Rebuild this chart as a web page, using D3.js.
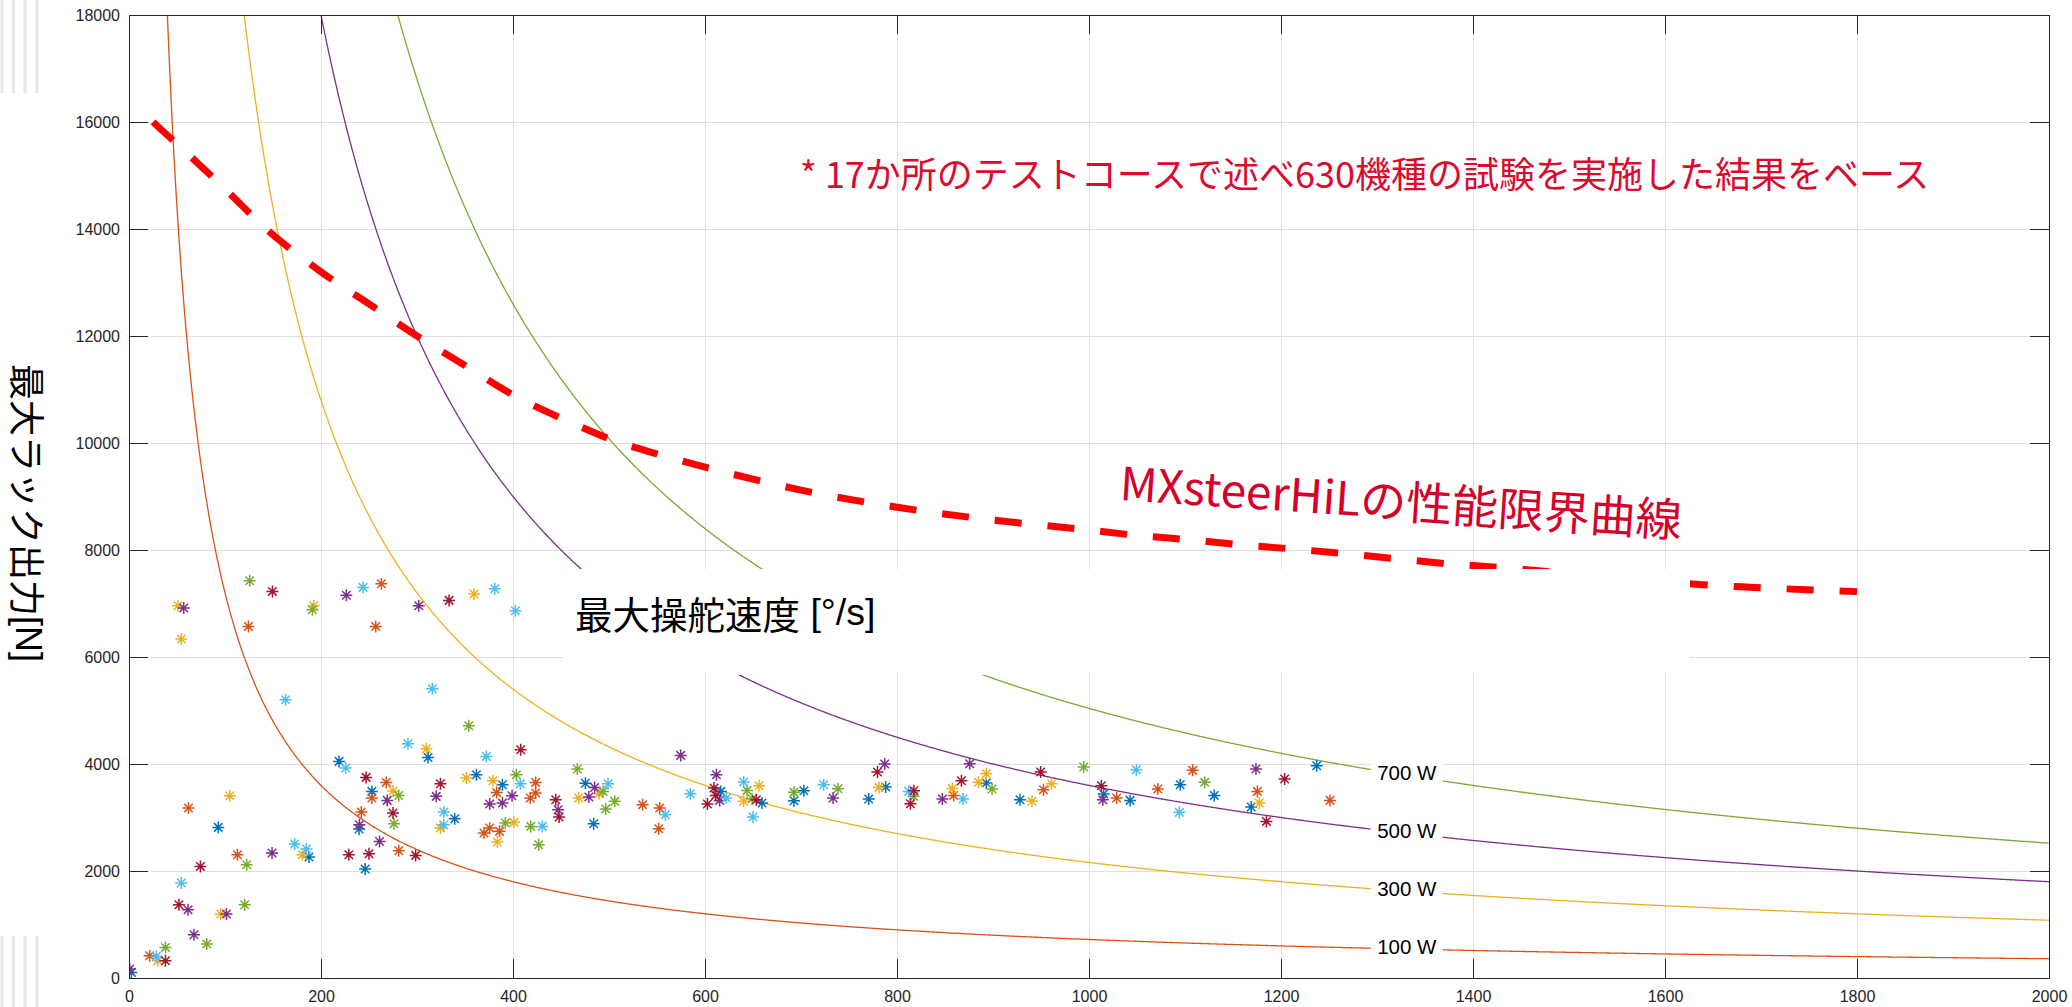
<!DOCTYPE html>
<html><head><meta charset="utf-8">
<script src="https://cdn.jsdelivr.net/npm/d3@7"></script>
<style>body{margin:0;background:#fff;} svg{display:block;}</style>
</head><body>
<svg id="chart" width="2072" height="1007"></svg>
<script>
// ---------------- data ----------------
const xTickValues = [0,200,400,600,800,1000,1200,1400,1600,1800,2000];
const yTickValues = [0,2000,4000,6000,8000,10000,12000,14000,16000,18000];
const xLabelMain = "最大操舵速度";
const xLabelUnit = " [°/s]";
const yLabelMain = "最大ラック出力";
const yLabelUnit = "[N]";
const noteText = "* 17か所のテストコースで述べ630機種の試験を実施した結果をベース";
const limitText = "MXsteerHiLの性能限界曲線";

const powerLevels = [100, 300, 500, 700];           // W
const powerLabels = ["100 W", "300 W", "500 W", "700 W"];
const powerColors = ["#D95319", "#EDB120", "#7E2F8E", "#77AC30"];
const rackTravelPerRev = 0.05;   // m of rack travel per steering revolution (F = P / (v/360*0.05))
const powerLabelSpeed = 1331;

// MXsteerHiL limit curve (speed °/s, force N)
const limitCurve = [[25,16000],[100,14750],[143,14000],[200,13200],[250,12600],[300,12000],[350,11450],
  [400,10900],[467,10330],[500,10080],[547,9810],[600,9550],[700,9120],[800,8800],[900,8560],[997,8380],
  [1050,8273],[1104,8193],[1158,8099],[1212,8019],[1266,7931],[1320,7837],[1373,7744],[1427,7675],
  [1500,7560],[1580,7440],[1639,7351],[1693,7301],[1747,7258],[1800,7222]];

const seriesColors = ["#0072BD","#D95319","#EDB120","#7E2F8E","#77AC30","#4DBEEE","#A2142F"];
const blueSeries = [[2.5,105],[93,2815],[187.5,2262],[218.8,4049],[253,3488],[239.6,2785],[246,2037],
  [311.5,4123],[361.9,3800],[389,3613],[339.3,2978],[484,2884],[475.4,3640],[616.4,3488],[659.4,3271],
  [692.7,3314],[703,3501],[770.5,3346],[788.2,3570],[893,3645],[928.1,3333],[1015.3,3439],[1042.8,3320],
  [1095,3613],[1130.5,3413],[1168.9,3196],[1237.2,3968]];
const orangeSeries = [[21.5,417],[62,3178],[113,2305],[124.4,6572],[257,6572],[262.9,7370],[268,3656],
  [253,3364],[242,3103],[281,2379],[383,3465],[423.6,3656],[423.6,3458],[418,3364],[369.8,2710],
  [375.7,2804],[386,2741],[535,3240],[552.8,3178],[551.8,2790],[859,3413],[952.6,3520],[1028.8,3364],
  [1071.7,3532],[1108,3881],[1175.4,3488],[1251.1,3320]];
const yellowSeries = [[30,323],[95.5,1196],[105,3407],[180.6,2305],[51,6959],[54.5,6336],[192.4,6959],
  [359.4,7178],[309.8,4286],[275,3495],[351.4,3738],[379,3688],[324.4,2804],[401,2909],[383.7,2542],
  [468.4,3364],[489.6,3445],[640.3,3302],[656.3,3594],[781.3,3563],[857.7,3540],[885,3657],[893,3819],
  [940.6,3302],[961,3632],[1177.4,3271]];
const purpleSeries = [[0.7,168],[61.5,1277],[67.7,809],[101.5,1196],[149,2336],[57,6916],[226.4,7153],
  [301.8,6959],[269,3320],[240,2865],[261,2553],[320,3395],[375.7,3252],[389,3271],[399,3407],[447,3146],
  [485,3560],[479,3383],[574.7,4161],[611.9,3800],[615.3,3320],[733.4,3364],[787.2,4000],[847.3,3346],
  [875.7,4006],[1014.4,3333],[1173.9,3907]];
const greenSeries = [[38,572],[81,635],[120.5,1370],[122.6,2118],[125.7,7426],[191,6884],[353.9,4716],
  [281,3410],[276,2884],[403.5,3800],[392,2897],[418.5,2834],[426.8,2492],[467,3907],[493.8,3488],
  [506,3302],[496.6,3159],[643.8,3507],[649,3351],[692.7,3470],[738.5,3538],[817.4,3395],[899,3532],
  [994.5,3944],[1120.5,3657]];
const lightBlueSeries = [[28.5,404],[54.5,1775],[172.6,2505],[184.8,2411],[163,5200],[225.7,3925],
  [243.8,7301],[381,7277],[402.5,6866],[316,5407],[290.6,4379],[372.3,4142],[407.7,3632],[328,3103],
  [327.8,2865],[430.6,2834],[499,3632],[558.7,3053],[584.8,3445],[622.3,3364],[640.3,3664],[650,3009],
  [723.6,3613],[812.2,3488],[868.8,3346],[1049.3,3894],[1094.1,3096]];
const darkRedSeries = [[38,323],[52,1370],[74.4,2086],[149.4,7226],[333.4,7058],[247,3750],[275,3084],
  [229,2305],[250,2323],[298.6,2292],[408,4267],[324.4,3632],[444.5,3333],[448,3009],[609.4,3551],
  [611.1,3413],[602.5,3252],[653.5,3333],[779.6,3850],[817.7,3501],[814,3258],[867.1,3688],[949.6,3850],
  [1012.9,3594],[1184.8,2927],[1203.8,3720]];
const allSeries = [blueSeries, orangeSeries, yellowSeries, purpleSeries, greenSeries, lightBlueSeries, darkRedSeries];

// ---------------- layout ----------------
const W = 2072, H = 1007;
const margin = {left: 129, top: 15, right: 23, bottom: 29};
const pw = W - margin.left - margin.right;   // 1920
const ph = H - margin.top - margin.bottom;   // 963
const cjkFont = "Noto Sans CJK JP, sans-serif";
const latinFont = "Liberation Sans, Arial, sans-serif";

const svg = d3.select("#chart");
const x = d3.scaleLinear().domain([0, 2000]).range([margin.left, margin.left + pw]);
const y = d3.scaleLinear().domain([0, 18000]).range([margin.top + ph, margin.top]);

// left-edge artifacts
const artX = [0.5, 12, 23.5, 35.5];
svg.append("g").selectAll("rect").data(artX).join("rect")
  .attr("x", d => d).attr("y", 0).attr("width", 3).attr("height", 93).attr("fill", "#e6e6e6");
svg.append("g").selectAll("rect").data(artX).join("rect")
  .attr("x", d => d).attr("y", 936).attr("width", 3).attr("height", 71).attr("fill", "#e6e6e6");

svg.append("defs").append("clipPath").attr("id", "plotclip")
  .append("rect").attr("x", margin.left).attr("y", margin.top).attr("width", pw).attr("height", ph);

// gridlines
const grid = svg.append("g").attr("stroke", "#dfdfdf").attr("stroke-width", 1);
grid.selectAll("line.v").data(xTickValues.slice(1, -1)).join("line").attr("class", "v")
  .attr("x1", d => Math.round(x(d)) + 0.5).attr("x2", d => Math.round(x(d)) + 0.5)
  .attr("y1", margin.top).attr("y2", margin.top + ph);
grid.selectAll("line.h").data(yTickValues.slice(1, -1)).join("line").attr("class", "h")
  .attr("y1", d => Math.round(y(d)) + 0.5).attr("y2", d => Math.round(y(d)) + 0.5)
  .attr("x1", margin.left).attr("x2", margin.left + pw);

const plot = svg.append("g").attr("clip-path", "url(#plotclip)");

// iso-power curves  F = P / (v/360 * rackTravelPerRev)
const forceAt = (p, v) => p / (v / 360 * rackTravelPerRev);
const line = d3.line().x(d => x(d[0])).y(d => y(d[1]));
powerLevels.forEach((p, i) => {
  const vmin = p * 360 / rackTravelPerRev / 18000 * 0.97;
  const pts = d3.range(vmin, 2000.5, 1).map(v => [v, forceAt(p, v)]);
  plot.append("path").attr("d", line(pts)).attr("fill", "none")
    .attr("stroke", powerColors[i]).attr("stroke-width", 1.3);
});

// limit curve (dashed red)
plot.append("path")
  .attr("d", d3.line().x(d => x(d[0])).y(d => y(d[1])).curve(d3.curveMonotoneX)(limitCurve))
  .attr("fill", "none").attr("stroke", "#FF0000").attr("stroke-width", 7)
  .attr("stroke-dasharray", "27,26");

// scatter asterisks
const r = 6, rd = 6 * Math.SQRT1_2;
const starPath = `M${-r},0L${r},0M0,${-r}L0,${r}M${-rd},${-rd}L${rd},${rd}M${-rd},${rd}L${rd},${-rd}`;
allSeries.forEach((s, i) => {
  plot.append("g").selectAll("path").data(s).join("path")
    .attr("transform", d => `translate(${x(d[0])},${y(d[1])})`)
    .attr("d", starPath).attr("fill", "none")
    .attr("stroke", seriesColors[i]).attr("stroke-width", 1.5);
});

// power labels with white background
powerLevels.forEach((p, i) => {
  const cx = x(powerLabelSpeed), cy = y(forceAt(p, powerLabelSpeed)) - 3;
  svg.append("rect").attr("x", cx - 36).attr("y", cy - 15).attr("width", 72).attr("height", 30).attr("fill", "#fff");
  svg.append("text").attr("x", cx).attr("y", cy).attr("text-anchor", "middle")
    .attr("dominant-baseline", "central").attr("font-family", latinFont)
    .attr("font-size", 20.5).attr("fill", "#000").text(powerLabels[i]);
});

// x-label box + text
svg.append("rect").attr("x", 563).attr("y", 569).attr("width", 1127).attr("height", 106).attr("fill", "#fff");
const xl = svg.append("text").attr("x", 575).attr("y", 612).attr("dominant-baseline", "central")
  .attr("font-size", 37.5).attr("fill", "#000");
xl.append("tspan").attr("font-family", cjkFont).text(xLabelMain);
xl.append("tspan").attr("font-family", latinFont).text(xLabelUnit);

// axes with inward ticks
const styleAxis = g => {
  g.selectAll(".domain").attr("stroke", "#262626");
  g.selectAll(".tick line").attr("stroke", "#262626");
  g.selectAll(".tick text").attr("fill", "#262626").attr("font-size", 16).attr("font-family", latinFont);
};
svg.append("g").attr("transform", `translate(0,${margin.top + ph})`)
  .call(d3.axisBottom(x).tickValues(xTickValues).tickFormat(d3.format("d")).tickSize(-19).tickSizeOuter(0).tickPadding(13))
  .call(styleAxis);
svg.append("g").attr("transform", `translate(${margin.left},0)`)
  .call(d3.axisLeft(y).tickValues(yTickValues).tickFormat(d3.format("d")).tickSize(-19).tickSizeOuter(0).tickPadding(9))
  .call(styleAxis);
svg.append("g").attr("transform", `translate(0,${margin.top})`)
  .call(d3.axisTop(x).tickValues(xTickValues).tickFormat("").tickSize(-19).tickSizeOuter(0))
  .call(styleAxis);
svg.append("g").attr("transform", `translate(${margin.left + pw},0)`)
  .call(d3.axisRight(y).tickValues(yTickValues).tickFormat("").tickSize(-19).tickSizeOuter(0))
  .call(styleAxis);

// y label
const yl = svg.append("text").attr("transform", "translate(29,513) rotate(90)")
  .attr("text-anchor", "middle").attr("dominant-baseline", "central")
  .attr("font-size", 36).attr("fill", "#000");
yl.append("tspan").attr("font-family", cjkFont).text(yLabelMain);
yl.append("tspan").attr("font-family", latinFont).text(yLabelUnit);

// annotations
svg.append("text").attr("x", 800).attr("y", 172).attr("dominant-baseline", "central")
  .attr("font-family", cjkFont).attr("font-size", 36).attr("fill", "#DC0A2D")
  .text(noteText);
svg.append("text").attr("transform", "translate(1119,500) rotate(3.8)")
  .attr("font-family", cjkFont).attr("font-size", 46).attr("fill", "#D6002A")
  .text(limitText);
</script>
</body></html>
